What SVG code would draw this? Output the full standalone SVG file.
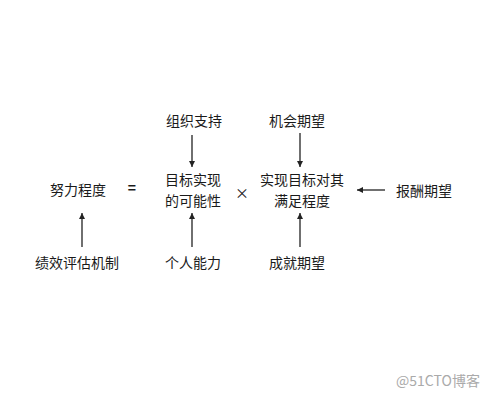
<svg xmlns="http://www.w3.org/2000/svg" width="500" height="400" viewBox="0 0 500 400">
<defs>
<marker id="ah" viewBox="0 0 10 10" refX="10" refY="5" markerWidth="6" markerHeight="7" markerUnits="userSpaceOnUse" orient="auto">
<path d="M0,0 L10,5 L0,10 z" fill="#222"/>
</marker>
<style>
text{font-family:"Noto Sans CJK SC","Noto Sans",sans-serif;font-size:14px;fill:#1a1a1a;text-anchor:middle;dominant-baseline:central}
.c{stroke:#222;stroke-width:1.3;fill:none;marker-end:url(#ah)}
.wm{font-size:14px;fill:#aaa}
</style>
</defs>
<rect width="500" height="400" fill="#fff"/>
<g id="effort"><text x="78" y="189">努力程度</text></g>
<g id="eq"><text x="132" y="187" font-size="22" font-weight="bold">=</text></g>
<g id="possibility"><text x="193" y="179">目标实现</text><text x="193" y="199.5">的可能性</text></g>
<g id="times"><text x="242" y="192">×</text></g>
<g id="satisfaction"><text x="302" y="179">实现目标对其</text><text x="302" y="199.5">满足程度</text></g>
<g id="org"><text x="194" y="120">组织支持</text></g>
<g id="opp"><text x="297" y="120">机会期望</text></g>
<g id="reward"><text x="424" y="190">报酬期望</text></g>
<g id="perf"><text x="77" y="262">绩效评估机制</text></g>
<g id="ability"><text x="193" y="262">个人能力</text></g>
<g id="achieve"><text x="297" y="262">成就期望</text></g>
<g id="connectors">
<line class="c" x1="192" y1="135" x2="192" y2="167"/>
<line class="c" x1="300" y1="133" x2="300" y2="167"/>
<line class="c" x1="385" y1="190" x2="357" y2="190"/>
<line class="c" x1="82" y1="247" x2="82" y2="213"/>
<line class="c" x1="192" y1="247" x2="192" y2="213"/>
<line class="c" x1="300" y1="247" x2="300" y2="213"/>
</g>
<text class="wm" x="438" y="380">@51CTO博客</text>
</svg>
